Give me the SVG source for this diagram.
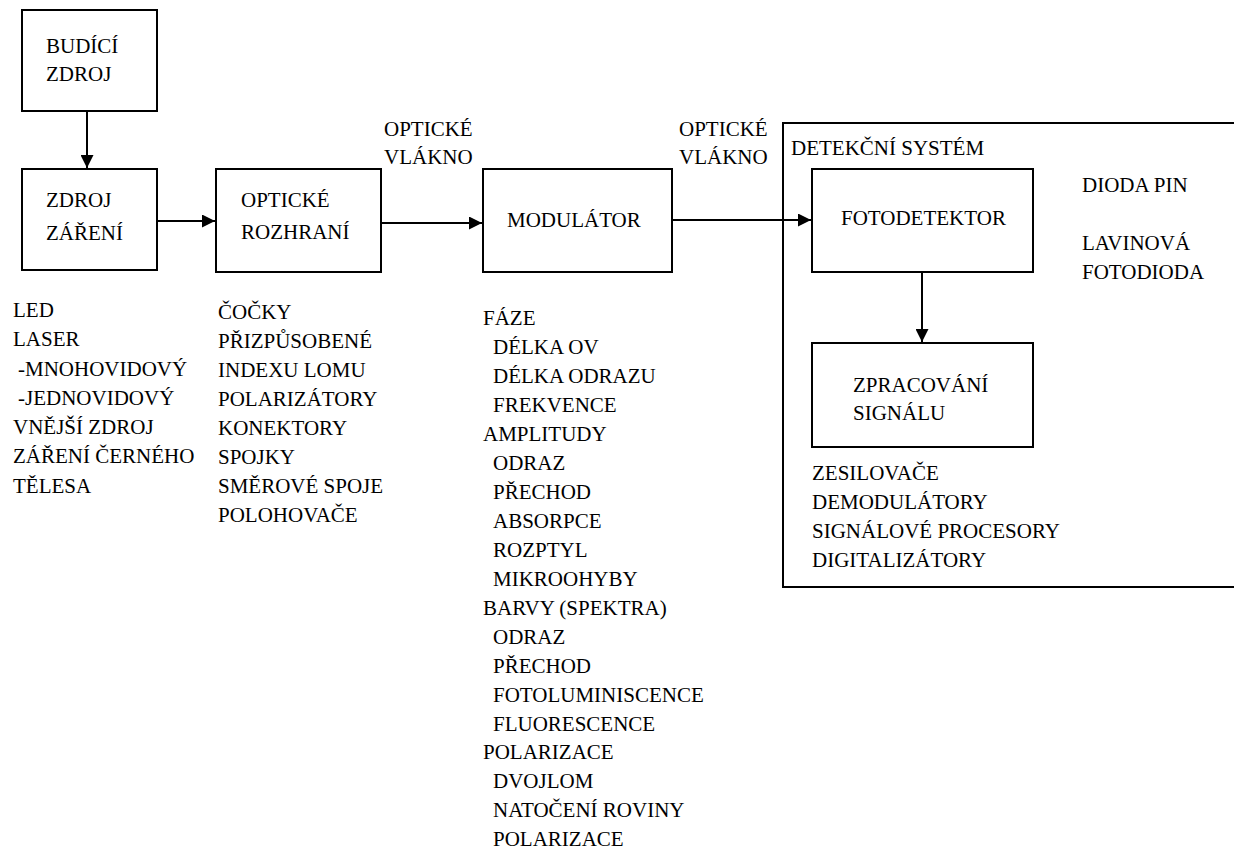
<svg xmlns="http://www.w3.org/2000/svg" width="1234" height="852" viewBox="0 0 1234 852">
<defs>
<marker id="ah" markerUnits="userSpaceOnUse" markerWidth="13" markerHeight="13" refX="13" refY="6.5" orient="auto">
<path d="M0,0 L13,6.5 L0,13 z" fill="#000"/>
</marker>
</defs>
<rect width="1234" height="852" fill="#fff"/>

<g id="detekcni-system">
<path d="M1240,123 H783 V587 H1240" fill="none" stroke="#000" stroke-width="2"/>
<text font-family="Liberation Serif" font-size="21" x="791" y="155">DETEKČNÍ SYSTÉM</text>
<text font-family="Liberation Serif" font-size="21" x="1082" y="192">DIODA PIN</text>
<text font-family="Liberation Serif" font-size="21" x="1082" y="250">LAVINOVÁ</text>
<text font-family="Liberation Serif" font-size="21" x="1082" y="279">FOTODIODA</text>
<text font-family="Liberation Serif" font-size="21" x="812" y="480">ZESILOVAČE</text>
<text font-family="Liberation Serif" font-size="21" x="812" y="509">DEMODULÁTORY</text>
<text font-family="Liberation Serif" font-size="21" x="812" y="538">SIGNÁLOVÉ PROCESORY</text>
<text font-family="Liberation Serif" font-size="21" x="812" y="567">DIGITALIZÁTORY</text>
</g>

<g id="budici-zdroj">
<rect x="22" y="10" width="135" height="101" fill="#fff" stroke="#000" stroke-width="2"/>
<text font-family="Liberation Serif" font-size="21" x="46" y="53">BUDÍCÍ</text>
<text font-family="Liberation Serif" font-size="21" x="46" y="81">ZDROJ</text>
</g>

<g id="zdroj-zareni">
<rect x="22" y="169" width="135" height="101" fill="#fff" stroke="#000" stroke-width="2"/>
<text font-family="Liberation Serif" font-size="21" x="46" y="207">ZDROJ</text>
<text font-family="Liberation Serif" font-size="21" x="46" y="240">ZÁŘENÍ</text>
</g>

<g id="opticke-rozhrani">
<rect x="216" y="169" width="165" height="103" fill="#fff" stroke="#000" stroke-width="2"/>
<text font-family="Liberation Serif" font-size="21" x="241" y="207">OPTICKÉ</text>
<text font-family="Liberation Serif" font-size="21" x="241" y="239">ROZHRANÍ</text>
</g>

<g id="modulator">
<rect x="483" y="169" width="189" height="103" fill="#fff" stroke="#000" stroke-width="2"/>
<text font-family="Liberation Serif" font-size="21" x="507" y="227">MODULÁTOR</text>
</g>

<g id="fotodetektor">
<rect x="812" y="169" width="221" height="103" fill="#fff" stroke="#000" stroke-width="2"/>
<text font-family="Liberation Serif" font-size="21" x="841" y="225">FOTODETEKTOR</text>
</g>

<g id="zpracovani-signalu">
<rect x="812" y="343" width="221" height="104" fill="#fff" stroke="#000" stroke-width="2"/>
<text font-family="Liberation Serif" font-size="21" x="853" y="392">ZPRACOVÁNÍ</text>
<text font-family="Liberation Serif" font-size="21" x="853" y="420">SIGNÁLU</text>
</g>

<g id="connectors" fill="none" stroke="#000" stroke-width="2">
<line x1="87" y1="112" x2="87" y2="168" marker-end="url(#ah)"/>
<line x1="158" y1="221" x2="215" y2="221" marker-end="url(#ah)"/>
<line x1="382" y1="223" x2="482" y2="223" marker-end="url(#ah)"/>
<line x1="673" y1="220" x2="811" y2="220" marker-end="url(#ah)"/>
<line x1="922" y1="273" x2="922" y2="342" marker-end="url(#ah)"/>
</g>

<g id="labels-vlakno">
<text font-family="Liberation Serif" font-size="21" x="384" y="136">OPTICKÉ</text>
<text font-family="Liberation Serif" font-size="21" x="384" y="164">VLÁKNO</text>
<text font-family="Liberation Serif" font-size="21" x="679" y="136">OPTICKÉ</text>
<text font-family="Liberation Serif" font-size="21" x="679" y="164">VLÁKNO</text>
</g>

<g id="list-zdroje">
<text font-family="Liberation Serif" font-size="21" x="13" y="317">LED</text>
<text font-family="Liberation Serif" font-size="21" x="13" y="346">LASER</text>
<text font-family="Liberation Serif" font-size="21" x="18" y="376">-MNOHOVIDOVÝ</text>
<text font-family="Liberation Serif" font-size="21" x="18" y="405">-JEDNOVIDOVÝ</text>
<text font-family="Liberation Serif" font-size="21" x="13" y="434">VNĚJŠÍ ZDROJ</text>
<text font-family="Liberation Serif" font-size="21" x="13" y="463">ZÁŘENÍ ČERNÉHO</text>
<text font-family="Liberation Serif" font-size="21" x="13" y="493">TĚLESA</text>
</g>

<g id="list-rozhrani">
<text font-family="Liberation Serif" font-size="21" x="218" y="319">ČOČKY</text>
<text font-family="Liberation Serif" font-size="21" x="218" y="348">PŘIZPŮSOBENÉ</text>
<text font-family="Liberation Serif" font-size="21" x="218" y="377">INDEXU LOMU</text>
<text font-family="Liberation Serif" font-size="21" x="218" y="406">POLARIZÁTORY</text>
<text font-family="Liberation Serif" font-size="21" x="218" y="435">KONEKTORY</text>
<text font-family="Liberation Serif" font-size="21" x="218" y="464">SPOJKY</text>
<text font-family="Liberation Serif" font-size="21" x="218" y="493">SMĚROVÉ SPOJE</text>
<text font-family="Liberation Serif" font-size="21" x="218" y="522">POLOHOVAČE</text>
</g>

<g id="list-modulace">
<text font-family="Liberation Serif" font-size="21" x="483" y="325">FÁZE</text>
<text font-family="Liberation Serif" font-size="21" x="493" y="354">DÉLKA OV</text>
<text font-family="Liberation Serif" font-size="21" x="493" y="383">DÉLKA ODRAZU</text>
<text font-family="Liberation Serif" font-size="21" x="493" y="412">FREKVENCE</text>
<text font-family="Liberation Serif" font-size="21" x="483" y="441">AMPLITUDY</text>
<text font-family="Liberation Serif" font-size="21" x="493" y="470">ODRAZ</text>
<text font-family="Liberation Serif" font-size="21" x="493" y="499">PŘECHOD</text>
<text font-family="Liberation Serif" font-size="21" x="493" y="528">ABSORPCE</text>
<text font-family="Liberation Serif" font-size="21" x="493" y="557">ROZPTYL</text>
<text font-family="Liberation Serif" font-size="21" x="493" y="586">MIKROOHYBY</text>
<text font-family="Liberation Serif" font-size="21" x="483" y="615">BARVY (SPEKTRA)</text>
<text font-family="Liberation Serif" font-size="21" x="493" y="644">ODRAZ</text>
<text font-family="Liberation Serif" font-size="21" x="493" y="673">PŘECHOD</text>
<text font-family="Liberation Serif" font-size="21" x="493" y="702">FOTOLUMINISCENCE</text>
<text font-family="Liberation Serif" font-size="21" x="493" y="731">FLUORESCENCE</text>
<text font-family="Liberation Serif" font-size="21" x="483" y="759">POLARIZACE</text>
<text font-family="Liberation Serif" font-size="21" x="493" y="788">DVOJLOM</text>
<text font-family="Liberation Serif" font-size="21" x="493" y="817">NATOČENÍ ROVINY</text>
<text font-family="Liberation Serif" font-size="21" x="493" y="846">POLARIZACE</text>
</g>
</svg>
